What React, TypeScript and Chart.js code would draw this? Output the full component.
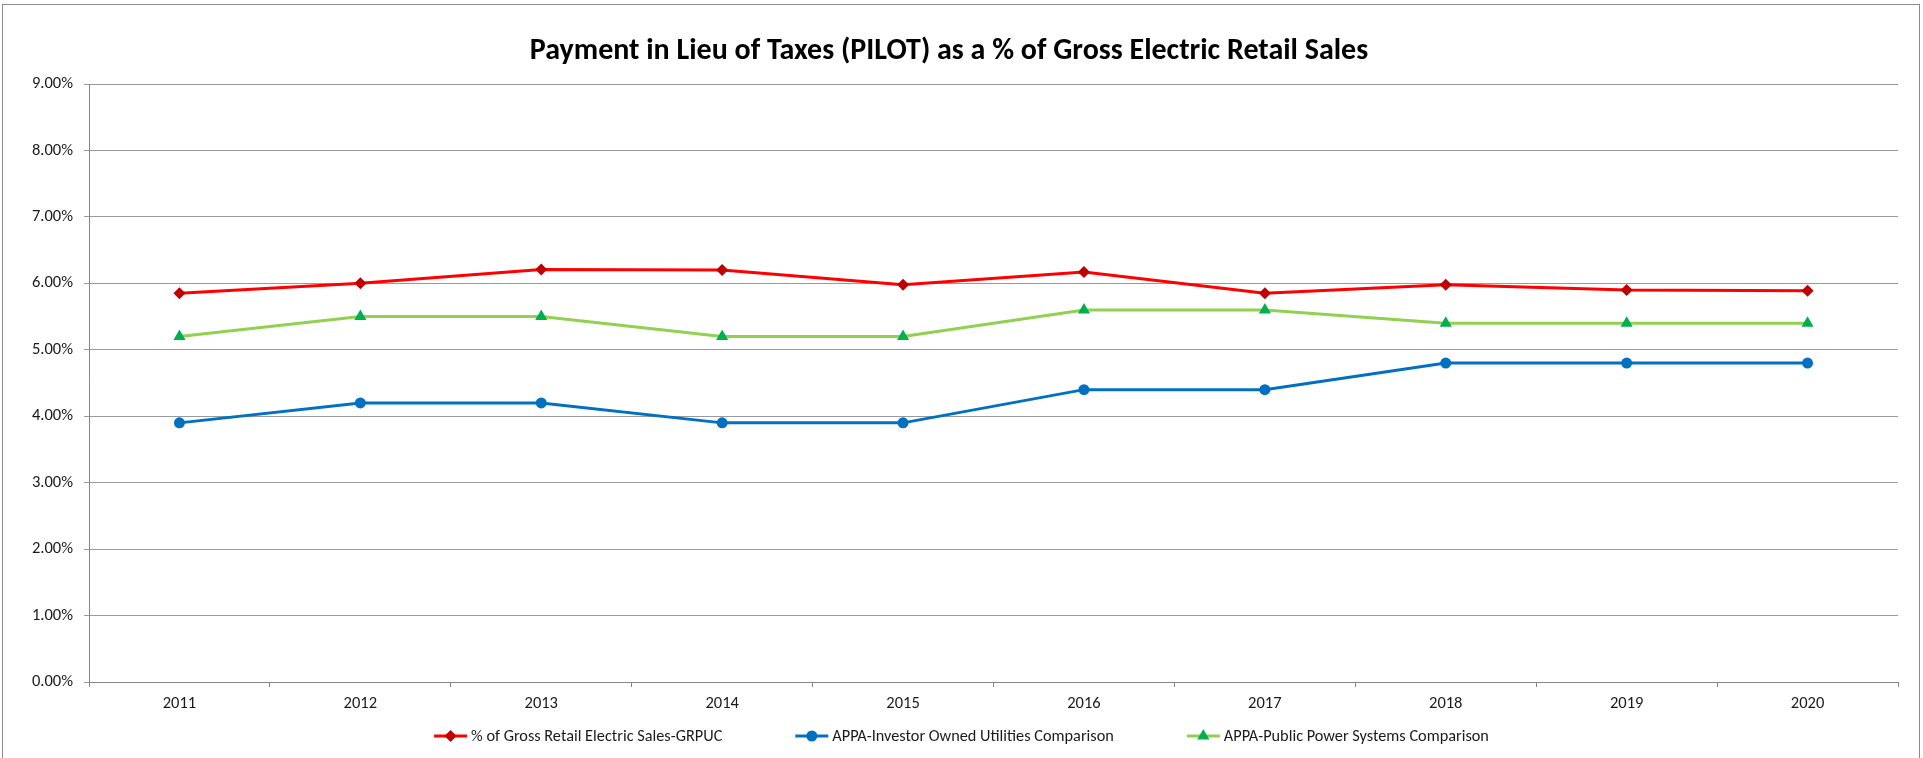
import React, { useEffect, useRef } from 'react';
import { Chart, registerables } from 'chart.js';

Chart.register(...registerables);

const FONT = "Carlito, Lato, 'Open Sans', sans-serif";

const chartTitle = 'Payment in Lieu of Taxes (PILOT) as a % of Gross Electric Retail Sales';
const years = ['2011', '2012', '2013', '2014', '2015', '2016', '2017', '2018', '2019', '2020'];
const seriesNames = [
  '% of Gross Retail Electric Sales-GRPUC',
  'APPA-Investor Owned Utilities Comparison',
  'APPA-Public Power Systems Comparison',
];
const grpucPct = [5.85, 6.0, 6.21, 6.2, 5.98, 6.17, 5.85, 5.98, 5.9, 5.89];
const investorOwnedPct = [3.9, 4.2, 4.2, 3.9, 3.9, 4.4, 4.4, 4.8, 4.8, 4.8];
const publicPowerPct = [5.2, 5.5, 5.5, 5.2, 5.2, 5.6, 5.6, 5.4, 5.4, 5.4];
const yMin = 0;
const yMax = 9;
const yStep = 1;

function drawMarker(ctx: CanvasRenderingContext2D, style: string, x: number, y: number, r: number, color: string) {
  ctx.save();
  ctx.fillStyle = color;
  ctx.beginPath();
  if (style === 'rectRot') {
    ctx.moveTo(x, y - r);
    ctx.lineTo(x + r, y);
    ctx.lineTo(x, y + r);
    ctx.lineTo(x - r, y);
    ctx.closePath();
  } else if (style === 'triangle') {
    const h = r * 1.5;
    const w = r * Math.sqrt(3);
    ctx.moveTo(x, y - r);
    ctx.lineTo(x + w / 2, y - r + h);
    ctx.lineTo(x - w / 2, y - r + h);
    ctx.closePath();
  } else {
    ctx.arc(x, y, r, 0, Math.PI * 2);
  }
  ctx.fill();
  ctx.restore();
}

const framePlugin = {
  id: 'frame',
  beforeDraw(chart: any) {
    const ctx = chart.ctx;
    ctx.save();
    ctx.fillStyle = '#ffffff';
    ctx.fillRect(0, 0, chart.width, chart.height);
    ctx.strokeStyle = '#8c8c8c';
    ctx.lineWidth = 1;
    ctx.strokeRect(2.5, 4.5, chart.width - 6, chart.height + 20);
    ctx.restore();
  },
};

const lineLegendPlugin = {
  id: 'lineLegend',
  afterDraw(chart: any) {
    const ctx: CanvasRenderingContext2D = chart.ctx;
    ctx.save();
    ctx.font = `16.3px ${FONT}`;
    const lineLen = 33;
    const gapText = 4;
    const gapItem = 73;
    const items = chart.data.datasets.map((ds: any) => ({ ds, w: ctx.measureText(ds.label).width }));
    const total =
      items.reduce((s: number, it: any) => s + lineLen + gapText + it.w, 0) + gapItem * (items.length - 1);
    let x = chart.width / 2 - total / 2;
    const y = chart.chartArea.bottom + 54;
    for (const it of items) {
      ctx.strokeStyle = it.ds.borderColor;
      ctx.lineWidth = 3;
      ctx.beginPath();
      ctx.moveTo(x, y);
      ctx.lineTo(x + lineLen, y);
      ctx.stroke();
      drawMarker(ctx, it.ds.pointStyle, x + lineLen / 2, y, it.ds.pointRadius, it.ds.pointBackgroundColor);
      ctx.fillStyle = '#1a1a1a';
      ctx.textBaseline = 'middle';
      ctx.textAlign = 'left';
      ctx.fillText(it.ds.label, x + lineLen + gapText, y + 1);
      x += lineLen + gapText + it.w + gapItem;
    }
    ctx.restore();
  },
};

export default function App() {
  const canvasRef = useRef<HTMLCanvasElement | null>(null);

  useEffect(() => {
    const canvas = canvasRef.current;
    if (!canvas) return;
    const chart = new Chart(canvas, {
      type: 'line',
      data: {
        labels: years,
        datasets: [
          {
            label: seriesNames[0],
            data: grpucPct,
            borderColor: '#FF0000',
            backgroundColor: '#C00000',
            pointBackgroundColor: '#C00000',
            pointBorderColor: '#C00000',
            pointStyle: 'rectRot',
            pointRadius: 6,
            pointBorderWidth: 0,
            borderWidth: 3,
            tension: 0,
          },
          {
            label: seriesNames[1],
            data: investorOwnedPct,
            borderColor: '#0070C0',
            backgroundColor: '#0070C0',
            pointBackgroundColor: '#0070C0',
            pointBorderColor: '#0070C0',
            pointStyle: 'circle',
            pointRadius: 5.5,
            pointBorderWidth: 0,
            borderWidth: 3,
            tension: 0,
          },
          {
            label: seriesNames[2],
            data: publicPowerPct,
            borderColor: '#92D050',
            backgroundColor: '#00B050',
            pointBackgroundColor: '#00B050',
            pointBorderColor: '#00B050',
            pointStyle: 'triangle',
            pointRadius: 7,
            pointBorderWidth: 0,
            borderWidth: 3,
            tension: 0,
          },
        ],
      },
      options: {
        responsive: false,
        animation: false,
        layout: { padding: { left: 0, right: 25, top: 0, bottom: 36 } },
        plugins: {
          legend: { display: false },
          tooltip: { enabled: false },
          title: {
            display: true,
            text: chartTitle,
            color: '#000000',
            font: { family: FONT, size: 30, weight: 'bold' },
            padding: { top: 33, bottom: 15 },
          },
        },
        scales: {
          x: {
            offset: true,
            grid: { offset: true, drawOnChartArea: false, drawTicks: true, tickLength: 5, color: '#868686' },
            border: { color: '#868686' },
            ticks: { padding: 7, maxRotation: 0, autoSkip: false, color: '#1a1a1a', font: { family: FONT, size: 16.5 } },
            afterFit: (s: any) => {
              s.height = 40;
            },
          },
          y: {
            min: yMin,
            max: yMax,
            ticks: {
              stepSize: yStep,
              padding: 11,
              color: '#1a1a1a',
              font: { family: FONT, size: 16.5 },
              callback: (v: any) => Number(v).toFixed(2) + '%',
            },
            grid: { color: '#9a9a9a', tickLength: 5, drawTicks: true },
            border: { color: '#868686' },
            afterFit: (s: any) => {
              s.width = 89;
            },
          },
        },
      },
      plugins: [framePlugin, lineLegendPlugin],
    });
    return () => chart.destroy();
  }, []);

  return (
    <div style={{ position: 'fixed', left: 0, top: 0, width: 1923, height: 758, background: '#fff' }}>
      <canvas ref={canvasRef} width={1923} height={758} style={{ display: 'block' }} />
    </div>
  );
}
